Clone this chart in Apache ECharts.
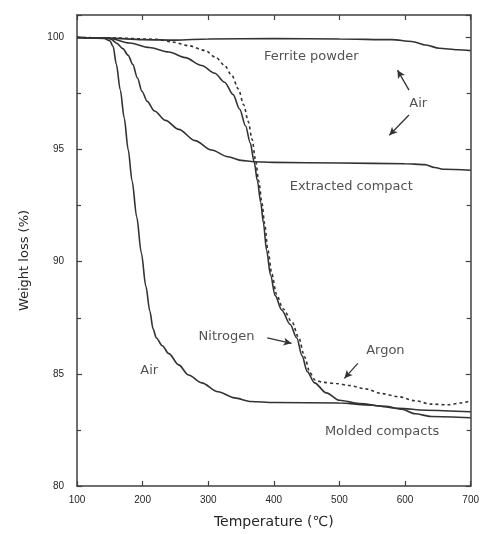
<!DOCTYPE html>
<html>
<head>
<meta charset="utf-8">
<script src="https://cdn.jsdelivr.net/npm/echarts@6/dist/echarts.min.js"></script>
<style>
  html, body { margin: 0; padding: 0; background: #ffffff; }
  #chart { width: 482px; height: 534px; }
</style>
</head>
<body>
<div id="chart"></div>
<script>
// ---- Data (temperature °C, weight %) ----
const xTicks = [100, 200, 300, 400, 500, 600, 700];
const yTicks = [80, 85, 90, 95, 100];

const ferriteAir = [[100,100],[150,99.97],[200,99.9],[250,99.88],[300,99.93],[400,99.95],[500,99.93],[580,99.9],[610,99.82],[632,99.66],[652,99.52],[680,99.45],[700,99.41]];

const extractedAir = [[100,100],[145,99.98],[152,99.92],[160,99.75],[170,99.5],[178,99.2],[185,98.8],[192,98.2],[199,97.6],[207,97.15],[218,96.72],[235,96.3],[255,95.9],[280,95.4],[305,94.98],[330,94.68],[350,94.52],[370,94.46],[400,94.43],[500,94.4],[600,94.37],[630,94.33],[645,94.2],[660,94.12],[700,94.08]];

const moldedAir = [[100,100],[140,99.98],[150,99.85],[155,99.6],[160,98.8],[166,97.65],[172,96.4],[178,95.0],[184,93.6],[191,92.0],[198,90.4],[205,88.9],[211,87.8],[216,87.0],[221,86.6],[230,86.25],[240,85.9],[255,85.4],[270,84.95],[290,84.6],[315,84.2],[340,83.93],[365,83.77],[400,83.72],[500,83.7],[550,83.6],[590,83.46],[632,83.38],[700,83.31]];

const moldedNitrogen = [[100,100],[150,99.95],[180,99.75],[210,99.55],[240,99.35],[265,99.1],[290,98.75],[310,98.4],[325,98.0],[338,97.45],[348,96.8],[357,96.05],[364,95.3],[370,94.45],[375,93.6],[380,92.65],[384,91.75],[389,90.5],[395,89.4],[402,88.5],[412,87.85],[425,87.2],[435,86.6],[443,85.8],[451,85.1],[462,84.6],[480,84.15],[500,83.82],[530,83.68],[570,83.55],[595,83.42],[615,83.22],[640,83.1],[700,83.04]];

const moldedArgon = [[100,100],[150,99.98],[220,99.92],[245,99.8],[270,99.63],[295,99.42],[312,99.1],[325,98.75],[336,98.3],[346,97.7],[354,97.0],[361,96.25],[367,95.45],[372,94.55],[377,93.6],[382,92.6],[386,91.7],[391,90.5],[397,89.45],[404,88.55],[414,87.9],[428,87.3],[438,86.6],[447,85.75],[455,85.05],[463,84.72],[475,84.62],[495,84.57],[515,84.48],[540,84.33],[565,84.12],[590,83.98],[615,83.8],[640,83.65],[665,83.62],[685,83.7],[700,83.8]];

// annotation texts and their anchor points in data coordinates
const annotationTexts = ['Ferrite powder', 'Air', 'Extracted compact', 'Nitrogen', 'Argon', 'Air', 'Molded compacts'];
const annotationAt = [[457,99.15],[620,97.06],[518,93.36],[328,86.67],[570,86.05],[210,85.15],[565,82.43]];
// arrows: [from, to] in data coordinates
const arrows = [
  [[606,97.65],[588.5,98.54]],
  [[606,96.54],[576,95.64]],
  [[390,86.6],[427,86.36]],
  [[528,85.47],[507.6,84.8]]
];

const LINE = '#333333';
const AXIS = '#404040';
const TEXT = '#262626';
const FONT = 'DejaVu Sans';

const chart = echarts.init(document.getElementById('chart'), null, { renderer: 'canvas' });

function lineSeries(name, data, dashed) {
  return {
    name: name, type: 'line', data: data, showSymbol: false, symbol: 'none',
    smooth: 0.3, smoothMonotone: 'x',
    lineStyle: { color: LINE, width: 1.6, type: dashed ? [3, 3] : 'solid' },
    silent: true, z: 3
  };
}

const axisCommonX = {
  type: 'value', min: 100, max: 700, interval: 100,
  axisLine: { show: true, onZero: false, lineStyle: { color: AXIS, width: 1.5 } },
  axisTick: { show: true, inside: true, length: 5, lineStyle: { color: AXIS, width: 1.2 } },
  splitLine: { show: false }
};
const axisCommonY = {
  type: 'value', min: 80, max: 101, interval: 5,
  axisLine: { show: true, onZero: false, lineStyle: { color: AXIS, width: 1.5 } },
  axisTick: { show: true, inside: true, length: 5, lineStyle: { color: AXIS, width: 1.2 } },
  minorTick: { show: true, splitNumber: 2, length: 4, lineStyle: { color: AXIS, width: 1.2 } },
  splitLine: { show: false },
  minorSplitLine: { show: false }
};

const option = {
  backgroundColor: '#ffffff',
  animation: false,
  grid: { left: 77, right: 10, top: 15, bottom: 46, containLabel: false },
  xAxis: [
    Object.assign({}, axisCommonX, {
      position: 'bottom',
      name: 'Temperature (℃)', nameLocation: 'middle', nameGap: 29,
      nameTextStyle: { fontFamily: FONT, fontSize: 14, color: TEXT },
      axisLabel: { show: true, margin: 9, fontFamily: 'Liberation Sans', fontSize: 10, color: TEXT,
        formatter: v => xTicks.includes(v) ? String(v) : '' }
    }),
    Object.assign({}, axisCommonX, { position: 'top', axisLabel: { show: false } })
  ],
  yAxis: [
    Object.assign({}, axisCommonY, {
      position: 'left',
      name: 'Weight loss (%)', nameLocation: 'middle', nameGap: 46, nameRotate: 90,
      nameTextStyle: { fontFamily: FONT, fontSize: 13, color: TEXT, padding: [0, 20, 0, 0] },
      axisLabel: { show: true, margin: 13, fontFamily: 'Liberation Sans', fontSize: 10, color: TEXT,
        formatter: v => yTicks.includes(v) ? String(v) : '' }
    }),
    Object.assign({}, axisCommonY, { position: 'right', axisLabel: { show: false } })
  ],
  series: [
    lineSeries('Ferrite powder (Air)', ferriteAir, false),
    lineSeries('Extracted compact (Air)', extractedAir, false),
    lineSeries('Molded compact (Air)', moldedAir, false),
    lineSeries('Molded compact (Nitrogen)', moldedNitrogen, false),
    lineSeries('Molded compact (Argon)', moldedArgon, true),
    {
      name: 'annotations', type: 'scatter', symbolSize: 0, silent: true, z: 5,
      data: annotationAt.map((p, i) => [p[0], p[1], annotationTexts[i]]),
      label: { show: true, position: 'inside', formatter: p => p.value[2],
        fontFamily: FONT, fontSize: 13, color: TEXT },
      markLine: {
        silent: true, symbol: ['none', 'arrow'], symbolSize: [6, 8],
        label: { show: false },
        lineStyle: { color: '#333', width: 1.3, type: 'solid' },
        data: arrows.map(a => [{ coord: a[0] }, { coord: a[1] }])
      }
    }
  ]
};
chart.setOption(option);
</script>
</body>
</html>
